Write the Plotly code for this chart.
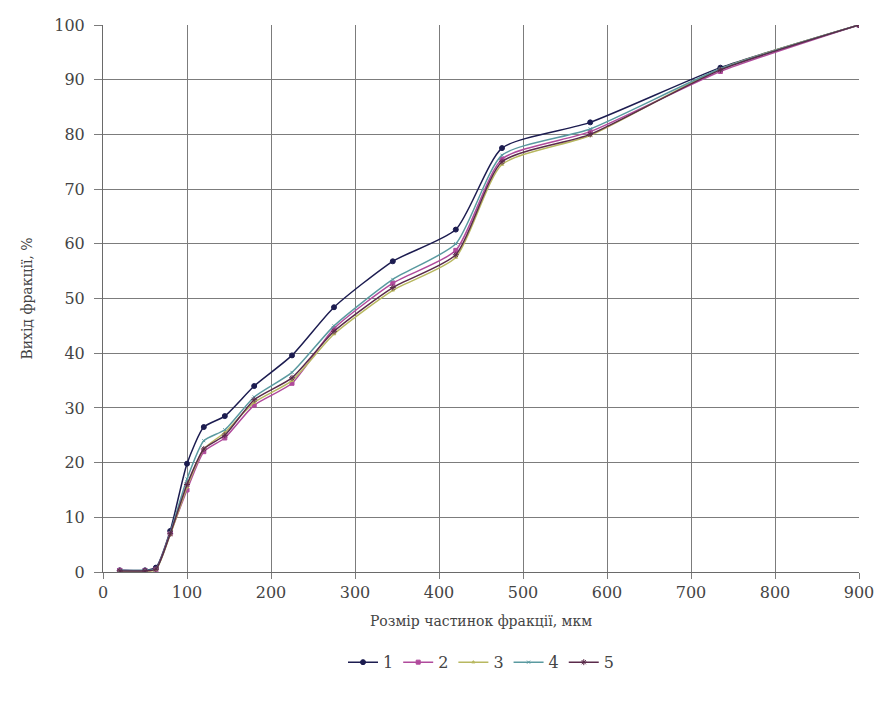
import plotly.graph_objects as go

size_um = [20, 50, 63, 80, 100, 120, 145, 180, 225, 275, 345, 420, 475, 580, 735, 900]
s1 = [0.3, 0.3, 0.8, 7.5, 19.8, 26.5, 28.5, 34.0, 39.6, 48.4, 56.8, 62.6, 77.5, 82.2, 92.2, 100]
s2 = [0.3, 0.2, 0.5, 7.0, 15.0, 22.0, 24.5, 30.5, 34.5, 44.5, 52.8, 58.8, 75.5, 80.5, 91.5, 100]
s3 = [0.2, 0.2, 0.4, 6.8, 15.5, 22.5, 25.5, 31.0, 35.0, 43.5, 51.5, 57.5, 74.5, 79.8, 92.0, 100]
s4 = [0.3, 0.3, 0.6, 7.2, 17.0, 24.0, 26.0, 32.0, 36.5, 45.0, 53.5, 60.0, 76.2, 81.0, 92.0, 100]
s5 = [0.2, 0.2, 0.5, 7.0, 16.0, 22.5, 25.0, 31.5, 35.5, 44.0, 52.0, 58.0, 75.0, 80.0, 91.8, 100]
names = ["1", "2", "3", "4", "5"]
series = [s1, s2, s3, s4, s5]

colors = ["#1c1c50", "#b04a9c", "#b8b860", "#5a9aa0", "#5a2a4a"]
symbols = ["circle", "square", "triangle-up", "x-thin", "asterisk"]
msizes = [5, 4, 3, 3, 5]

font = "DejaVu Serif"
fig = go.Figure()
for n, s, c, sym, ms in zip(names, series, colors, symbols, msizes):
    fig.add_trace(go.Scatter(
        x=size_um, y=s, name=n, mode="lines+markers",
        line=dict(color=c, width=1.5, shape="spline", smoothing=0.6),
        marker=dict(symbol=sym, size=ms, color=c, line=dict(color=c, width=1)),
    ))

fig.update_layout(
    width=886, height=702,
    margin=dict(l=103, r=21, t=25, b=130),
    paper_bgcolor="white", plot_bgcolor="white",
    font=dict(family=font, size=16, color="#444444"),
    showlegend=True,
    legend=dict(orientation="h", x=0.5, xanchor="center", y=-0.165, yanchor="middle",
                font=dict(size=16), itemwidth=30, tracegroupgap=0),
)
fig.update_xaxes(
    range=[0, 900], tickvals=list(range(0, 901, 100)),
    showgrid=True, gridcolor="#7c7c7c", gridwidth=1,
    showline=True, linecolor="#6a6a6a", linewidth=1,
    ticks="outside", ticklen=6, tickcolor="#7c7c7c",
    tickfont=dict(size=16),
    zeroline=False,
    title=dict(text="Розмір частинок фракції, мкм", font=dict(size=14), standoff=14),
)
fig.update_yaxes(
    range=[0, 100], tickvals=list(range(0, 101, 10)),
    showgrid=True, gridcolor="#7c7c7c", gridwidth=1,
    showline=True, linecolor="#6a6a6a", linewidth=1,
    ticks="outside", ticklen=8, tickcolor="#7c7c7c",
    tickfont=dict(size=16), ticklabelstandoff=6,
    zeroline=False,
    title=dict(text="Вихід фракції, %", font=dict(size=14), standoff=18),
)

fig.write_html("out.html")
